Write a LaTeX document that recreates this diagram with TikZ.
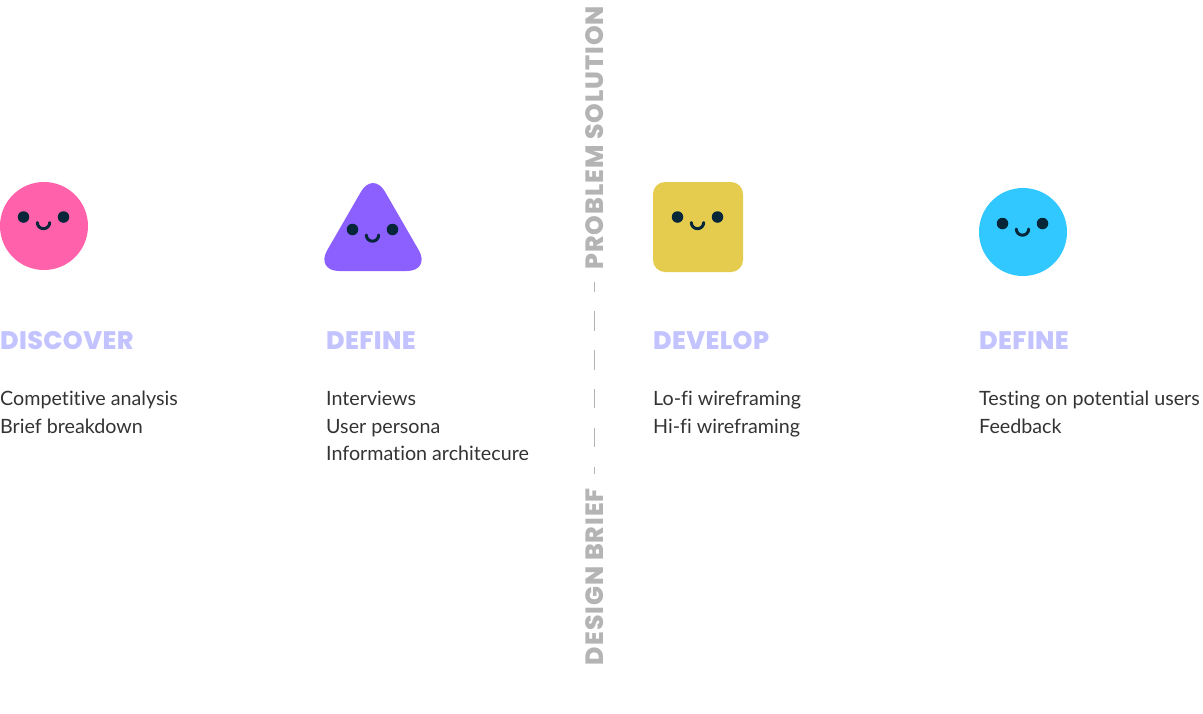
\documentclass[tikz,border=0pt]{standalone}
\usepackage{fontspec}
\setmainfont{Lato}[Ligatures=NoCommon]
\newfontfamily\headfont[LetterSpace=1.5]{Poppins ExtraBold}
\newfontfamily\sidefont[LetterSpace=4]{Poppins ExtraBold}
\usetikzlibrary{calc}
\definecolor{facedark}{HTML}{06263A}
\definecolor{heading}{HTML}{C3C3FF}
\definecolor{sidegrey}{HTML}{B4B4B4}
\definecolor{bodygrey}{HTML}{333333}
\definecolor{pinkface}{HTML}{FF62AB}
\definecolor{violetface}{HTML}{8C5FFF}
\definecolor{yellowface}{HTML}{E5CC4F}
\definecolor{blueface}{HTML}{30C8FF}
\tikzset{
  phase/.style={anchor=base west,inner sep=0pt,text=heading,font=\headfont\fontsize{25.3}{25}\selectfont},
  items/.style={anchor=north west,inner sep=0pt,text=bodygrey,align=left,font=\fontsize{19.7}{27.5}\selectfont},
  sidelabel/.style={rotate=90,inner sep=0pt,text=sidegrey,font=\sidefont\fontsize{25}{25}\selectfont},
  eye/.style={circle,fill=facedark,inner sep=0pt,minimum size=11.5pt},
}
% two eyes and a smile, #1 is the middle point between the eyes
\newcommand{\smiley}[1]{
  \node[eye] at ($(#1)+(-20,0)$) {};
  \node[eye] at ($(#1)+(20,0)$) {};
  \draw[facedark,line width=3pt,line cap=round] ($(#1)+(-6.2,5.5)$) arc[start angle=180,end angle=0,radius=6.2];
}
\begin{document}
\begin{tikzpicture}[x=1pt,y=-1pt]
\useasboundingbox (0,0) rectangle (1203,713);
%shapes
\fill[pinkface](44,226)circle[radius=44];
\fill[violetface,rounded corners=24pt](315.2,271)--(373,170.9)--(430.8,271)--cycle;
\fill[yellowface,rounded corners=12pt](653,182)rectangle(743,272);
\fill[blueface](1023,232)circle[radius=44];
%faces
\smiley{43.5,217}
\smiley{372.5,229.5}
\smiley{697.5,217}
\smiley{1022.5,223.5}
%headings
\node[phase](discover)at(0,349){DISCOVER};
\node[phase](define)at(326,349){DEFINE};
\node[phase](develop)at(653,349){DEVELOP};
\node[phase](defineagain)at(979,349){DEFINE};
%lists
\node[items](discoverlist)at(0,391){Competitive analysis\\Brief breakdown};
\node[items](definelist)at(326,391){Interviews\\User persona\\Information architecure};
\node[items](developlist)at(653,391){Lo-fi wireframing\\Hi-fi wireframing};
\node[items](testlist)at(979,391){Testing on potential users\\Feedback};
%divider
\node[sidelabel,anchor=west](problem)at(594.5,270){PROBLEM SOLUTION};
\node[sidelabel,anchor=east](design)at(594.5,488){DESIGN BRIEF};
\draw[sidegrey,line width=0.9pt,shorten <=12pt,shorten >=14pt,dash pattern=on 19.5pt off 19.3pt,dash phase=9.5pt](problem.west)--(design.east);
\end{tikzpicture}
\end{document}
